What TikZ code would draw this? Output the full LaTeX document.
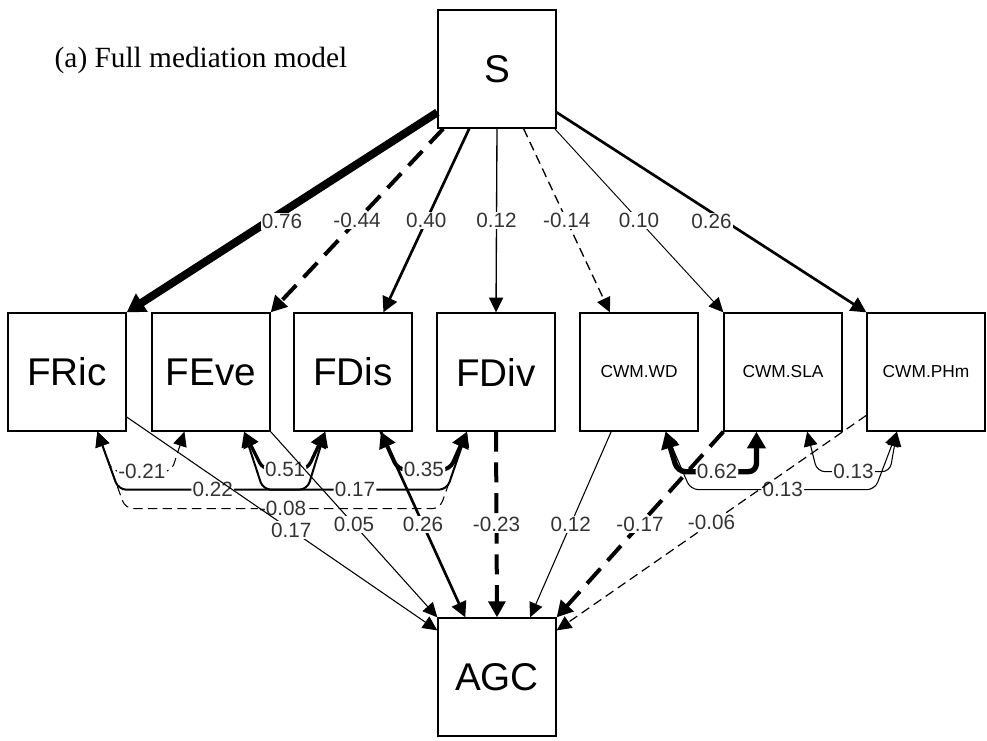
\documentclass[tikz,border=0pt]{standalone}
\usepackage{fontspec}
\setmainfont{Liberation Sans}
\newfontfamily\titlefont{Liberation Serif}
\usetikzlibrary{arrows.meta,calc}
\tikzset{
  var/.style={draw, line width=1pt, minimum size=88.5pt, inner sep=0pt, font=\fontsize{29}{30}\selectfont},
  smallvar/.style={font=\fontsize{13}{14}\selectfont},
  coef/.style={fill=white, inner sep=1pt, text=black!80, font=\fontsize{15.5}{16}\selectfont},
  reg/.style={-{Triangle[length=10.5pt 0.5,width=9.5pt 1]}},
  cov/.style={{Triangle[length=10.5pt 0.5,width=9.5pt 1]}-{Triangle[length=10.5pt 0.5,width=9.5pt 1]}, rounded corners=6pt},
  neg/.style={dash pattern=on 7pt off 4pt},
  negbig/.style={dash pattern=on 15pt off 8pt},
}
\begin{document}
\begin{tikzpicture}[x=0.75pt,y=-0.75pt]
        \useasboundingbox (0,0) rectangle (987,740);
        \node[anchor=west, font=\titlefont\fontsize{22}{23}\selectfont] (title) at (50,60) {(a) Full mediation model};
        \begin{scope}[every node/.style={var}]
            \node (S)   at (497,69)  {S};
            \node (FRic) at (67,372)  {FRic};
            \node (FEve) at (211,372) {FEve};
            \node (FDis) at (353,372) {FDis};
            \node (FDiv) at (496,372) {FDiv};
            \node[smallvar] (WD)  at (639,372) {CWM.WD};
            \node[smallvar] (SLA) at (783,372) {CWM.SLA};
            \node[smallvar] (PHm) at (926,372) {CWM.PHm};
            \node (AGC) at (497,677) {AGC};
        \end{scope}
        % covariances among the mediators
        \draw[cov, neg, line width=0.8pt] (FRic.-63) -- ++(15,40) -- node[coef] {-0.21} ($(FEve.-114)+(-13,40)$) -- (FEve.-114);
        \draw[cov, line width=2.5pt] (FEve.-61) -- ++(19,38) -- node[coef] {0.51} ($(FDis.-115)+(-18,38)$) -- (FDis.-115);
        \draw[cov, line width=3pt] (FDis.-65) -- ++(17,38) -- node[coef] {0.35} ($(FDiv.-116)+(-17,38)$) -- (FDiv.-116);
        \draw[cov, line width=1.5pt] (FRic.-63) -- ++(21,58) -- node[coef] {0.22} ($(FDis.-115)+(-18,58)$) -- (FDis.-115);
        \draw[cov, line width=1.5pt] (FEve.-61) -- ++(19,58) -- node[coef] {0.17} ($(FDiv.-116)+(-20,58)$) -- (FDiv.-116);
        \draw[cov, neg, line width=0.8pt] (FRic.-63) -- ++(28,77) -- node[coef] {-0.08} ($(FDiv.-116)+(-27,77)$) -- (FDiv.-116);
        \draw[cov, line width=4pt] (WD.-66) -- ++(12,40) -- node[coef] {0.62} ($(SLA.-114)+(0,40)$) -- (SLA.-114);
        \draw[cov, line width=0.8pt] (SLA.-68) -- ++(10,40) -- node[coef] {0.13} ($(PHm.-116)+(-7,40)$) -- (PHm.-116);
        \draw[cov, line width=0.8pt] (WD.-66) -- ++(25,58) -- node[coef] {0.13} ($(PHm.-116)+(-22,58)$) -- (PHm.-116);
        % paths from S
        \begin{scope}[every edge/.style={draw,reg}]
            \path
                (S.216) edge[line width=6pt] node[coef,yshift=-7pt] {0.76} (FRic.north east)
                (S.-132) edge[line width=3pt,negbig] node[coef] {-0.44} (FEve.north east)
                (S.-115) edge[line width=2pt] node[coef] {0.40} (FDis.63)
                (S.south) edge[line width=1pt] node[coef] {0.12} (FDiv.north)
                (S.-66) edge[line width=1pt,neg] node[coef] {-0.14} (WD.116)
                (S.-46) edge[line width=0.7pt] node[coef] {0.10} (SLA.north west)
                (S.-36) edge[line width=2pt] node[coef,yshift=-7pt] {0.26} (PHm.north west);
        \end{scope}
        % paths to AGC
        \begin{scope}[every edge/.style={draw,reg}]
            \path
                (FRic.-37) edge[line width=0.8pt] node[coef,pos=.53] {0.17} (AGC.142)
                (FEve.south east) edge[line width=0.8pt] node[coef] {0.05} (AGC.north west)
                (FDis.-65) edge[line width=2pt] node[coef] {0.26} (AGC.118)
                (FDiv.south) edge[line width=3pt,negbig] node[coef] {-0.23} (AGC.north)
                (WD.-115) edge[line width=0.8pt] node[coef] {0.12} (AGC.61)
                (SLA.south west) edge[line width=3pt,negbig] node[coef] {-0.17} (AGC.north east)
                (PHm.-144) edge[line width=0.9pt,neg] node[coef] {-0.06} (AGC.38);
        \end{scope}
\end{tikzpicture}
\end{document}
